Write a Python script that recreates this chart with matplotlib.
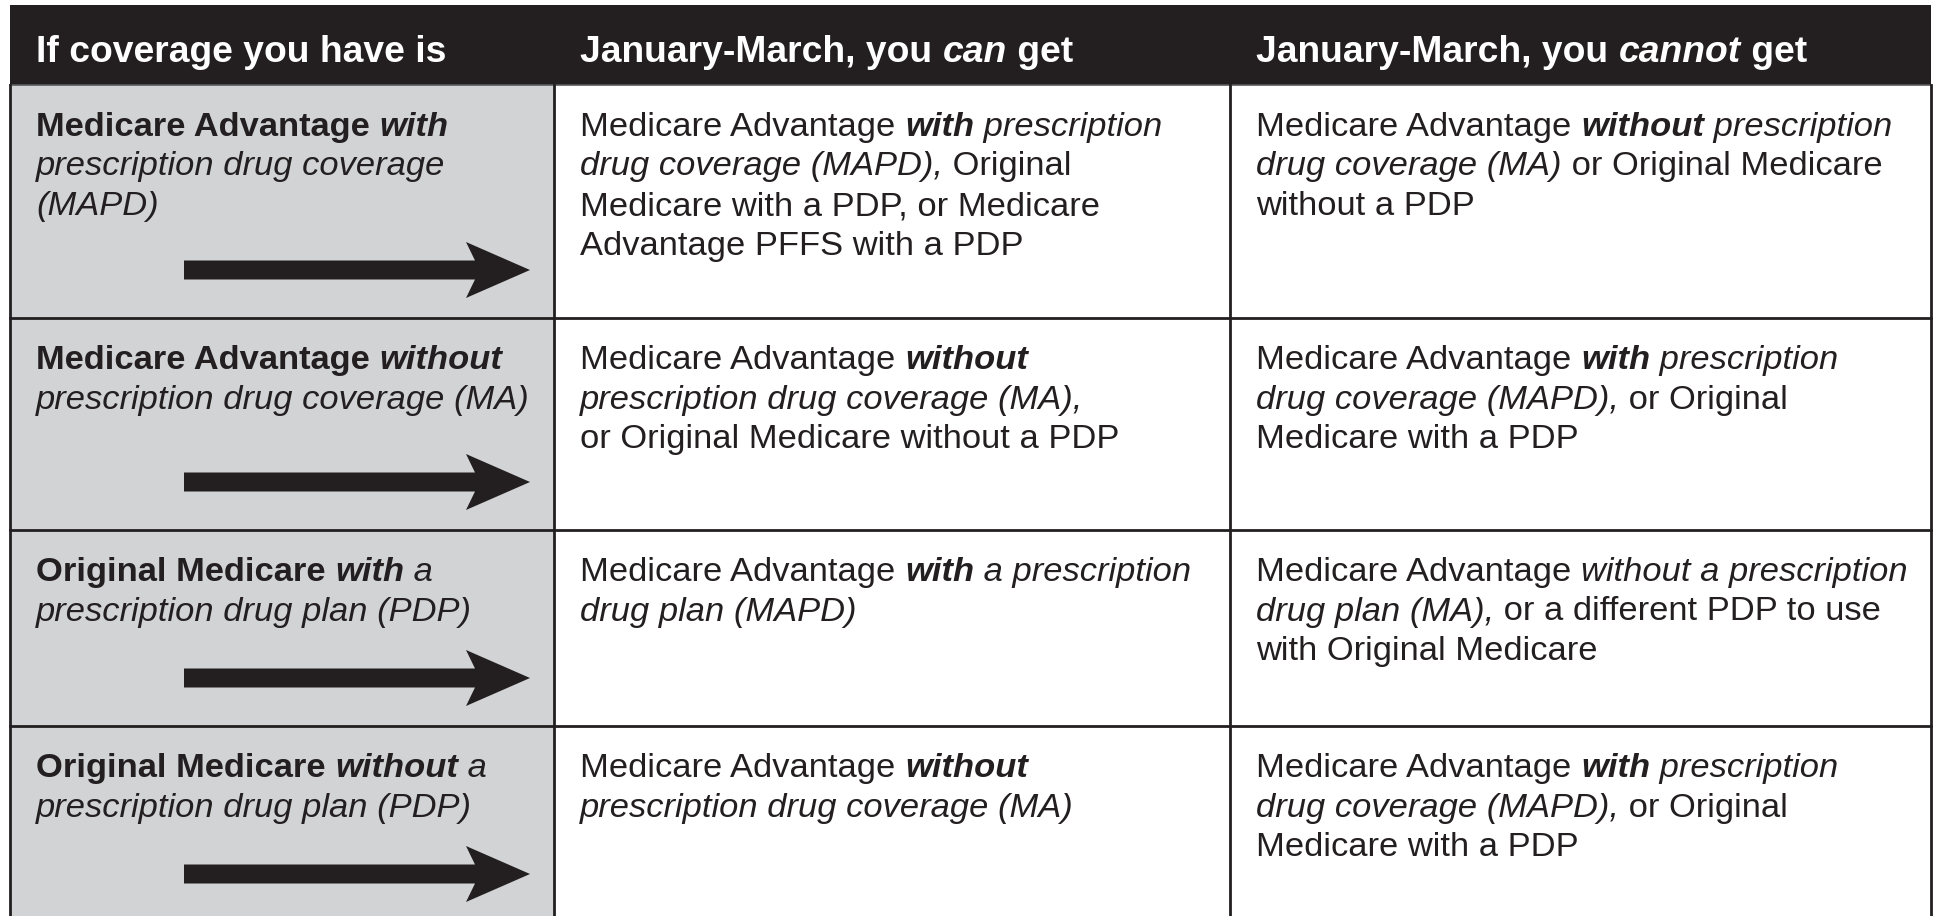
import matplotlib
matplotlib.use("Agg")
import matplotlib.pyplot as plt
from matplotlib.font_manager import FontProperties
from matplotlib.patches import Rectangle, Polygon

# table content: each cell is a list of lines, each line a list of (text, style)
# style: r = regular, b = bold, i = italic, bi = bold italic
header = [
    [("If coverage you have is", "b")],
    [("January-March, you ", "b"), ("can", "bi"), (" get", "b")],
    [("January-March, you ", "b"), ("cannot", "bi"), (" get", "b")],
]

coverage_have = [
    [[("Medicare Advantage ", "b"), ("with", "bi")],
     [("prescription drug coverage", "i")],
     [("(MAPD)", "i")]],
    [[("Medicare Advantage ", "b"), ("without", "bi")],
     [("prescription drug coverage (MA)", "i")]],
    [[("Original Medicare ", "b"), ("with", "bi"), (" a", "i")],
     [("prescription drug plan (PDP)", "i")]],
    [[("Original Medicare ", "b"), ("without", "bi"), (" a", "i")],
     [("prescription drug plan (PDP)", "i")]],
]

can_get = [
    [[("Medicare Advantage ", "r"), ("with", "bi"), (" prescription", "i")],
     [("drug coverage (MAPD),", "i"), (" Original", "r")],
     [("Medicare with a PDP, or Medicare", "r")],
     [("Advantage PFFS with a PDP", "r")]],
    [[("Medicare Advantage ", "r"), ("without", "bi")],
     [("prescription drug coverage (MA),", "i")],
     [("or Original Medicare without a PDP", "r")]],
    [[("Medicare Advantage ", "r"), ("with", "bi"), (" a prescription", "i")],
     [("drug plan (MAPD)", "i")]],
    [[("Medicare Advantage ", "r"), ("without", "bi")],
     [("prescription drug coverage (MA)", "i")]],
]

cannot_get = [
    [[("Medicare Advantage ", "r"), ("without", "bi"), (" prescription", "i")],
     [("drug coverage (MA)", "i"), (" or Original Medicare", "r")],
     [("without a PDP", "r")]],
    [[("Medicare Advantage ", "r"), ("with", "bi"), (" prescription", "i")],
     [("drug coverage (MAPD),", "i"), (" or Original", "r")],
     [("Medicare with a PDP", "r")]],
    [[("Medicare Advantage ", "r"), ("without a prescription", "i")],
     [("drug plan (MA),", "i"), (" or a different PDP to use", "r")],
     [("with Original Medicare", "r")]],
    [[("Medicare Advantage ", "r"), ("with", "bi"), (" prescription", "i")],
     [("drug coverage (MAPD),", "i"), (" or Original", "r")],
     [("Medicare with a PDP", "r")]],
]

# layout (pixels)
W, H = 1935, 916
col_x = [10, 554, 1230, 1931]
row_y = [5, 85, 318, 530, 726, 922]
pad_x = 26
ink = "#231f20"
grey = "#d1d3d4"

fig = plt.figure(figsize=(W / 100, H / 100), dpi=100)
ax = fig.add_axes([0, 0, 1, 1])
ax.set_xlim(0, W)
ax.set_ylim(H, 0)
ax.axis("off")
renderer = fig.canvas.get_renderer()

STYLES = {"r": ("normal", "normal"), "b": ("bold", "normal"),
          "i": ("normal", "italic"), "bi": ("bold", "italic")}


def props(style, size):
    weight, slant = STYLES[style]
    return FontProperties(family=["Liberation Sans", "DejaVu Sans"], weight=weight,
                          style=slant, size=size)


def text_width(s, fp):
    # sentinels keep leading/trailing spaces in the measurement
    w1, _, _ = renderer.get_text_width_height_descent("|" + s + "|", fp, ismath=False)
    w2, _, _ = renderer.get_text_width_height_descent("||", fp, ismath=False)
    return w1 - w2


def draw_lines(lines, x, y, size, color, step=39.5):
    for i, line in enumerate(lines):
        cx = x
        for seg, style in line:
            fp = props(style, size)
            ax.text(cx, y + i * step, seg, fontproperties=fp, color=color,
                    va="baseline", ha="left")
            cx += text_width(seg, fp)


# backgrounds
ax.add_patch(Rectangle((col_x[0], row_y[0]), col_x[3] - col_x[0], row_y[1] - row_y[0],
                       facecolor=ink, edgecolor="none"))
ax.add_patch(Rectangle((col_x[0], row_y[1]), col_x[1] - col_x[0], row_y[-1] - row_y[1],
                       facecolor=grey, edgecolor="none"))

# grid lines
lw = 2.0
ax.plot([col_x[0], col_x[3]], [row_y[1], row_y[1]], color="#5a5a5c", lw=1.2)
for y in row_y[2:-1]:
    ax.plot([col_x[0], col_x[3]], [y, y], color=ink, lw=lw)
for x in col_x:
    ax.plot([x, x], [row_y[1], row_y[-1]], color=ink, lw=lw)

# header
for c, cell in enumerate(header):
    draw_lines([cell], col_x[c] + pad_x, 62, 26.8, "white")

# body
columns = [coverage_have, can_get, cannot_get]
for c, col in enumerate(columns):
    for r, cell in enumerate(col):
        draw_lines(cell, col_x[c] + pad_x, row_y[r + 1] + 51, 24.8, ink)

# arrows in the first column
for r in range(len(coverage_have)):
    cy = row_y[r + 2] - 48
    x0, xj, xb, xt = 184, 475, 466, 530
    ax.add_patch(Polygon([(x0, cy - 9.5), (xj, cy - 9.5), (xb, cy - 28), (xt, cy),
                          (xb, cy + 28), (xj, cy + 9.5), (x0, cy + 9.5)],
                         closed=True, facecolor=ink, edgecolor="none"))

fig.savefig("out.png", dpi=100)
